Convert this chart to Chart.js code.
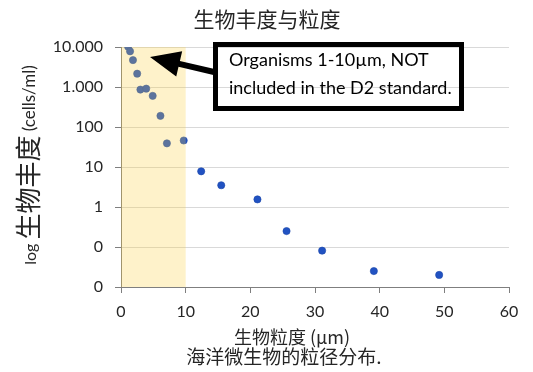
<!DOCTYPE html>
<html>
<head>
<meta charset="utf-8">
<script src="https://cdn.jsdelivr.net/npm/chart.js@4.4.0/dist/chart.umd.min.js"></script>
<style>
  html, body { margin: 0; padding: 0; background: #fff; }
</style>
</head>
<body>
<canvas id="chart" width="533" height="372"></canvas>
<script>
// data
var sizes = [1.1, 1.4, 1.85, 2.5, 3.0, 3.9, 4.9, 6.1, 7.1, 9.7, 12.4, 15.5, 21.1, 25.6, 31.1, 39.1, 49.2];
var abundance = [10200, 7800, 4700, 2150, 860, 910, 600, 190, 39, 46, 7.8, 3.5, 1.55, 0.25, 0.081, 0.025, 0.020];
var yTicks = [0.01, 0.1, 1, 10, 100, 1000, 10000];
var yTickLabels = ['0', '0', '1', '10', '100', '1.000', '10.000'];
var xTicks = [0, 10, 20, 30, 40, 50, 60];
var shadeRange = [0, 10];

var chartTitle = '生物丰度与粒度';
var xTitle = '生物粒度 (µm)';
var caption = '海洋微生物的粒径分布.';
var yTitleParts = ['log ', '生物丰度', ' (cells/ml)'];
var noteLines = ['Organisms 1-10µm, NOT', 'included in the D2 standard.'];

var cjk = '"Noto Sans CJK SC", "Noto Sans", sans-serif';
var latin = 'Lato, "Open Sans", sans-serif';
var textColor = '#262626';

var shade = {
	id: 'shade',
	afterDatasetsDraw: function(chart){
		var c = chart.ctx, a = chart.chartArea, x = chart.scales.x;
		var x0 = x.getPixelForValue(shadeRange[0]);
		var x1 = x.getPixelForValue(shadeRange[1]);
		c.save();
		c.fillStyle = 'rgba(250,208,60,0.27)';
		c.fillRect(x0, a.top, x1 - x0, a.bottom - a.top);
		c.restore();
	}
};

var texts = {
	id: 'texts',
	afterDraw: function(chart){
		var c = chart.ctx;
		c.save();
		c.fillStyle = textColor;
		c.textAlign = 'center';
		c.textBaseline = 'middle';

		c.font = '21px ' + cjk;
		c.fillText(chartTitle, 267, 19);

		c.font = '18px ' + latin;
		c.font = '18px ' + cjk;
		c.fillText(xTitle, 292, 337);
		c.font = '19px ' + cjk;
		c.fillText(caption, 284, 357);

		// y title: mixed sizes, rotated
		var fonts = ['16px ' + latin, '26px ' + cjk, '17px ' + latin];
		var offs = [1, -2, 0];
		var widths = [], total = 0;
		for (var i = 0; i < yTitleParts.length; i++) {
			c.font = fonts[i];
			widths[i] = c.measureText(yTitleParts[i]).width;
			total += widths[i];
		}
		c.translate(30, 165);
		c.rotate(-Math.PI / 2);
		c.textAlign = 'left';
		c.textBaseline = 'middle';
		var pos = -total / 2;
		for (i = 0; i < yTitleParts.length; i++) {
			c.font = fonts[i];
			c.fillText(yTitleParts[i], pos, offs[i]);
			pos += widths[i];
		}
		c.restore();

		// note box
		c.save();
		c.strokeStyle = '#000';
		c.lineWidth = 5;
		c.strokeRect(215.5, 44.5, 246, 64);
		c.fillStyle = '#000';
		c.font = '18px ' + latin;
		c.textAlign = 'left';
		c.textBaseline = 'middle';
		c.fillText(noteLines[0], 229, 60);
		c.fillText(noteLines[1], 229, 88);

		// arrow
		var tx = 150, ty = 57, sx = 214, sy = 72;
		var ang = Math.atan2(ty - sy, tx - sx);
		var headLen = 30, headW = 13, shaftW = 3;
		var bx = tx - headLen * Math.cos(ang), by = ty - headLen * Math.sin(ang);
		var nx = -Math.sin(ang), ny = Math.cos(ang);
		c.beginPath();
		c.moveTo(sx + nx * shaftW, sy + ny * shaftW);
		c.lineTo(bx + nx * shaftW, by + ny * shaftW);
		c.lineTo(bx + nx * headW, by + ny * headW);
		c.lineTo(tx, ty);
		c.lineTo(bx - nx * headW, by - ny * headW);
		c.lineTo(bx - nx * shaftW, by - ny * shaftW);
		c.lineTo(sx - nx * shaftW, sy - ny * shaftW);
		c.closePath();
		c.fill();
		c.restore();
	}
};

var points = sizes.map(function(x, i){ return {x: x, y: abundance[i]}; });

new Chart(document.getElementById('chart').getContext('2d'), {
	type: 'scatter',
	data: {
		datasets: [{
			data: points,
			backgroundColor: '#2152c2',
			borderColor: '#1b46aa',
			borderWidth: 0.6,
			pointRadius: 3.6
		}]
	},
	options: {
		responsive: false,
		animation: false,
		layout: { padding: { top: 47, right: 24, left: 0, bottom: 0 } },
		plugins: {
			legend: { display: false },
			tooltip: { enabled: false }
		},
		scales: {
			x: {
				type: 'linear',
				min: 0,
				max: 60,
				afterBuildTicks: function(s){ s.ticks = xTicks.map(function(v){ return {value: v}; }); },
				afterFit: function(s){ s.height = 85; },
				grid: { drawOnChartArea: false, drawTicks: true, tickLength: 6, color: '#7f7f7f' },
				border: { color: '#7f7f7f', width: 1 },
				ticks: { padding: 9, color: textColor, font: { family: latin, size: 16 } }
			},
			y: {
				type: 'logarithmic',
				min: 0.01,
				max: 10000,
				afterBuildTicks: function(s){ s.ticks = yTicks.map(function(v){ return {value: v}; }); },
				afterFit: function(s){ s.width = 121; },
				grid: { color: '#d9d9d9', tickColor: '#7f7f7f', tickLength: 6 },
				border: { color: '#7f7f7f', width: 1 },
				ticks: {
					padding: 12,
					color: textColor,
					font: { family: latin, size: 16 },
					callback: function(v){ return yTickLabels[yTicks.indexOf(v)]; }
				}
			}
		}
	},
	plugins: [shade, texts]
});
</script>
</body>
</html>
